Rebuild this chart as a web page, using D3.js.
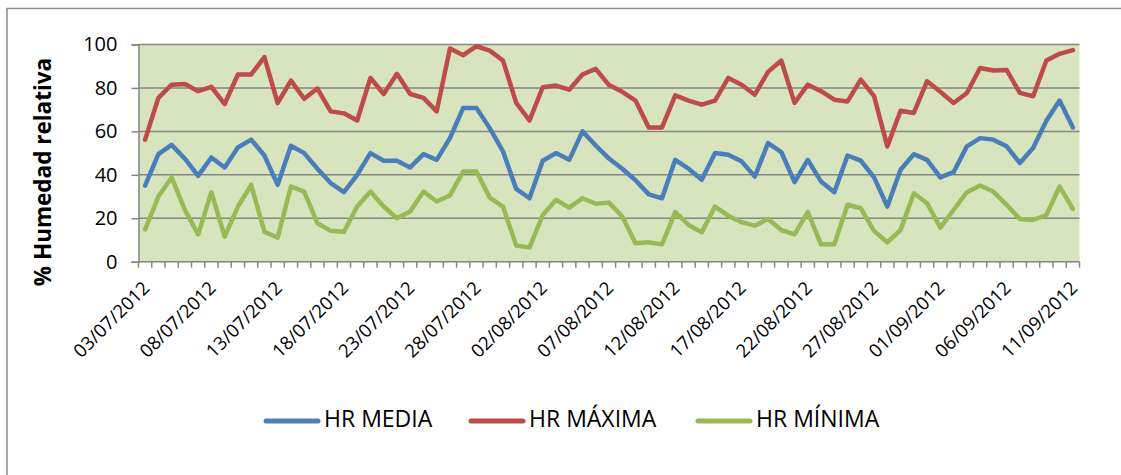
<!DOCTYPE html>
<html>
<head>
<meta charset="utf-8">
<script src="https://cdn.jsdelivr.net/npm/d3@7"></script>
<style>
  body { margin: 0; background: #fff; }
  text { font-family: "Open Sans", Lato, sans-serif; fill: #000; }
</style>
</head>
<body>
<div id="chart"></div>
<script>
// daily relative humidity, 03/07/2012 .. 11/09/2012
const startDate = new Date(2012, 6, 3);
const dayCount = 71;

const hrMedia = [35, 49.5, 53.8, 47.4, 39.5, 48, 43.4, 52.6, 56.2, 48.9,
  35.4, 53.4, 50, 42.8, 36.2, 32, 40, 50, 46.5, 46.5,
  43.4, 49.5, 46.9, 56.9, 70.8, 70.8, 61.5, 50.8, 33.5, 29.2,
  46.5, 50, 46.9, 60, 53.5, 47.5, 42.8, 37.5, 31, 29.2,
  46.9, 42.8, 37.7, 50, 49.2, 46.2, 39.2, 54.6, 50.5, 36.6,
  46.9, 36.9, 32, 48.9, 46.5, 38.8, 25.4, 42.3, 49.5, 46.9,
  38.8, 41.2, 53.1, 56.9, 56.2, 53.1, 45.4, 52.3, 64.9, 74.2,
  61.8];

const hrMaxima = [56.2, 75.4, 81.5, 81.8, 78.5, 80.5, 72.6, 86.2, 86.2, 94.2,
  73, 83.4, 75, 79.7, 69.2, 68.3, 65, 84.6, 77.2, 86.5,
  77.2, 75.4, 69.2, 98.2, 95.1, 99.2, 97.2, 92.6, 73.1, 65,
  80.3, 81.1, 79.2, 86.2, 88.8, 81.3, 78.2, 74.2, 61.8, 61.8,
  76.6, 74.2, 72.3, 74.2, 84.6, 81.5, 76.9, 87.4, 92.6, 73.1,
  81.5, 78.5, 74.6, 73.8, 83.8, 76.2, 53.1, 69.5, 68.5, 83.1,
  78.2, 73.1, 77.7, 89.2, 88, 88.3, 77.7, 76.2, 92.6, 95.7,
  97.4];

const hrMinima = [14.9, 30, 38.8, 23.8, 12.6, 32, 11.5, 25.4, 35.4, 13.8,
  11.1, 34.6, 32.3, 17.7, 14.2, 13.8, 25.4, 32.3, 25.4, 20,
  23.1, 32.3, 27.7, 30.5, 41.5, 41.5, 29.5, 25.4, 7.4, 6.5,
  21.5, 28.5, 24.9, 29.2, 26.7, 27.2, 20.8, 8.5, 8.9, 8,
  22.8, 16.9, 13.5, 25.4, 21.2, 18.2, 16.6, 19.7, 14.6, 12.6,
  22.8, 8, 8, 26.2, 24.6, 14.2, 8.9, 14.6, 31.5, 26.9,
  15.7, 23.8, 32, 35.1, 32.3, 26.2, 19.7, 19.2, 21.5, 34.6,
  24.3];

const yTicks = [0, 20, 40, 60, 80, 100];
const seriesNames = ["HR MEDIA", "HR MÁXIMA", "HR MÍNIMA"];
const seriesColors = ["#4a7ebb", "#be4b48", "#98b954"];

const fmt = d3.timeFormat("%d/%m/%Y");
const dates = d3.range(dayCount).map(i => d3.timeDay.offset(startDate, i));
const labels = dates.map(fmt);

const width = 1121, height = 475;
const plot = {left: 138.5, top: 44.5, right: 1079.5, bottom: 261.7};

const svg = d3.select("#chart").append("svg")
  .attr("width", width)
  .attr("height", height);

// outer chart frame
svg.append("rect")
  .attr("x", 7).attr("y", 8.5)
  .attr("width", 1300).attr("height", 600)
  .attr("fill", "#fff")
  .attr("stroke", "#8c8c8c")
  .attr("stroke-width", 1.5);

const x = d3.scaleBand()
  .domain(labels)
  .range([plot.left, plot.right]);

const y = d3.scaleLinear()
  .domain([0, 100])
  .range([plot.bottom, plot.top]);

svg.append("rect")
  .attr("x", plot.left).attr("y", plot.top)
  .attr("width", plot.right - plot.left)
  .attr("height", plot.bottom - plot.top)
  .attr("fill", "#d7e4bd");

// horizontal gridlines
svg.append("g")
  .selectAll("line")
  .data(yTicks.filter(d => d > 0))
  .join("line")
  .attr("x1", plot.left).attr("x2", plot.right)
  .attr("y1", d => y(d)).attr("y2", d => y(d))
  .attr("stroke", "#868686")
  .attr("stroke-width", 1.5);

// y axis
const yAxis = svg.append("g")
  .attr("transform", "translate(" + plot.left + ",0)")
  .call(d3.axisLeft(y).tickValues(yTicks).tickSize(7).tickPadding(14));
yAxis.select(".domain").attr("stroke", "#868686").attr("stroke-width", 1.5);
yAxis.selectAll(".tick line").attr("stroke", "#868686").attr("stroke-width", 1.5);
yAxis.selectAll(".tick text")
  .attr("font-size", 20)
  .attr("font-family", "'Open Sans', Lato, sans-serif")
  .attr("fill", "#000");

// x axis: ticks between categories
const xg = svg.append("g");
xg.append("line")
  .attr("x1", plot.left).attr("x2", plot.right)
  .attr("y1", plot.bottom).attr("y2", plot.bottom)
  .attr("stroke", "#868686").attr("stroke-width", 1.5);
xg.selectAll("line.tick")
  .data(d3.range(dayCount + 1))
  .join("line")
  .attr("class", "tick")
  .attr("x1", i => plot.left + i * x.step())
  .attr("x2", i => plot.left + i * x.step())
  .attr("y1", plot.bottom).attr("y2", plot.bottom + 6)
  .attr("stroke", "#868686").attr("stroke-width", 1.5);

xg.selectAll("text")
  .data(labels.filter((d, i) => i % 5 === 0))
  .join("text")
  .attr("transform", d => "translate(" + (x(d) + x.bandwidth() / 2 + 2) + "," + (plot.bottom + 24) + ") rotate(-45)")
  .attr("text-anchor", "end")
  .attr("dominant-baseline", "middle")
  .attr("font-size", 18.5)
  .text(d => d);

// y axis title
svg.append("text")
  .attr("transform", "translate(45,172) rotate(-90)")
  .attr("text-anchor", "middle")
  .attr("dominant-baseline", "middle")
  .attr("font-size", 22.5)
  .attr("font-weight", "bold")
  .text("% Humedad relativa");

// lines
const line = d3.line()
  .x((d, i) => x(labels[i]) + x.bandwidth() / 2)
  .y(d => y(d));

[hrMedia, hrMaxima, hrMinima].forEach((s, k) => {
  svg.append("path")
    .datum(s)
    .attr("fill", "none")
    .attr("stroke", seriesColors[k])
    .attr("stroke-width", 4.5)
    .attr("stroke-linejoin", "round")
    .attr("stroke-linecap", "round")
    .attr("d", line);
});

// legend
const legendX = [266, 471, 698];
const legend = svg.append("g");
seriesNames.forEach((name, k) => {
  legend.append("line")
    .attr("x1", legendX[k]).attr("x2", legendX[k] + 52)
    .attr("y1", 421).attr("y2", 421)
    .attr("stroke", seriesColors[k])
    .attr("stroke-width", 5)
    .attr("stroke-linecap", "round");
  legend.append("text")
    .attr("x", legendX[k] + 58)
    .attr("y", 421)
    .attr("dominant-baseline", "middle")
    .attr("font-size", 23)
    .text(name);
});
</script>
</body>
</html>
